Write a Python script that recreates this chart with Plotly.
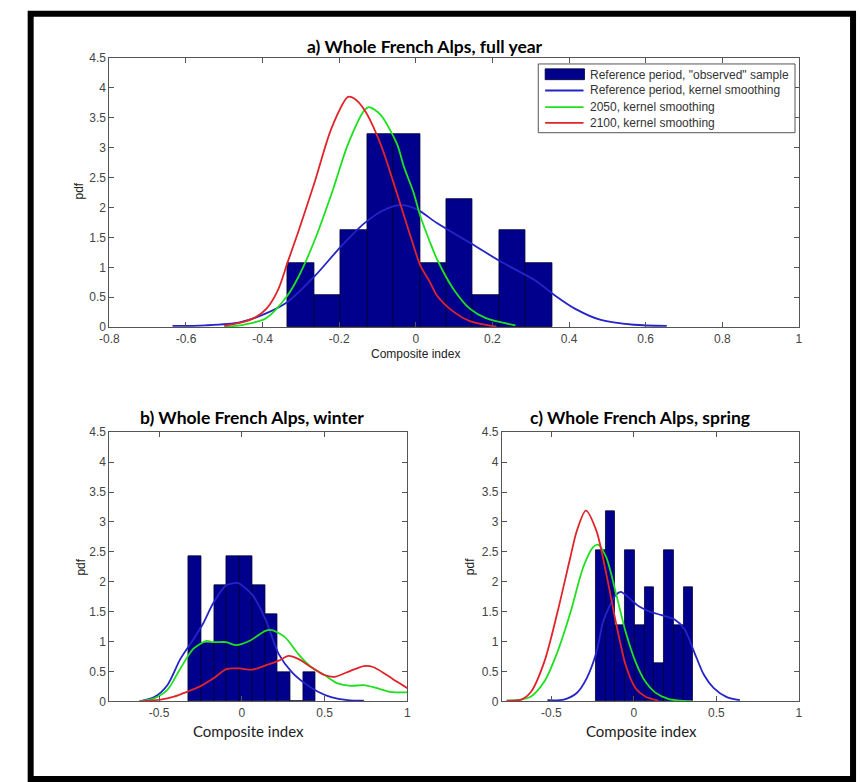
import plotly.graph_objects as go

W, H = 860, 782

# ---------------- data ----------------
# a) full year: histogram of the reference sample (pdf-normalised)
a_bin_start = -0.335
a_bin_width = 0.0691
a_heights = [1.08, 0.54, 1.62, 3.23, 3.23, 1.08, 2.15, 0.54, 1.62, 1.08]

a_ref_x = [-0.635, -0.55, -0.46, -0.391, -0.335, -0.263, -0.194, -0.134, -0.083, -0.040,
           0.003, 0.055, 0.141, 0.226, 0.312, 0.363, 0.415, 0.483, 0.569, 0.655]
a_ref_y = [0.02, 0.03, 0.08, 0.23, 0.42, 0.86, 1.36, 1.74, 1.96, 2.04,
           1.97, 1.74, 1.41, 1.08, 0.78, 0.53, 0.31, 0.12, 0.04, 0.02]

a_2050_x = [-0.50, -0.45, -0.391, -0.335, -0.305, -0.263, -0.220, -0.177, -0.134, -0.122,
            -0.092, -0.049, -0.031, -0.006, 0.012, 0.037, 0.055, 0.098, 0.141, 0.183, 0.26]
a_2050_y = [0.01, 0.04, 0.15, 0.53, 0.86, 1.47, 2.23, 3.06, 3.63, 3.68,
            3.55, 3.06, 2.68, 2.25, 1.85, 1.42, 1.14, 0.64, 0.31, 0.15, 0.03]

a_2100_x = [-0.50, -0.46, -0.42, -0.391, -0.36, -0.335, -0.305, -0.263, -0.220, -0.177,
            -0.160, -0.134, -0.092, -0.049, -0.006, 0.012, 0.037, 0.055, 0.098, 0.141, 0.19, 0.21]
a_2100_y = [0.02, 0.07, 0.16, 0.30, 0.62, 1.08, 1.63, 2.45, 3.33, 3.85,
            3.82, 3.63, 3.06, 2.23, 1.36, 1.03, 0.75, 0.53, 0.26, 0.10, 0.03, 0.01]

# b) winter
b_bin_start = -0.321
b_bin_width = 0.0767
b_heights = [2.42, 0.97, 1.94, 2.42, 2.42, 1.94, 1.45, 0.48, 0.0, 0.48]

b_ref_x = [-0.618, -0.529, -0.45, -0.371, -0.292, -0.232, -0.173, -0.094, -0.025, -0.015,
           0.064, 0.143, 0.223, 0.302, 0.381, 0.46, 0.539, 0.638, 0.737]
b_ref_y = [0.0, 0.07, 0.27, 0.71, 1.04, 1.31, 1.64, 1.94, 1.98, 1.97,
           1.78, 1.37, 0.79, 0.49, 0.30, 0.16, 0.07, 0.02, 0.01]

b_2050_x = [-0.618, -0.529, -0.45, -0.371, -0.292, -0.213, -0.173, -0.094, -0.035, 0.045,
            0.143, 0.183, 0.262, 0.341, 0.42, 0.499, 0.579, 0.658, 0.737, 0.816, 0.895, 1.0]
b_2050_y = [0.0, 0.05, 0.19, 0.55, 0.88, 1.01, 0.99, 0.99, 0.94, 1.01,
            1.18, 1.19, 1.07, 0.79, 0.57, 0.44, 0.30, 0.26, 0.27, 0.22, 0.16, 0.15]

b_2100_x = [-0.618, -0.49, -0.41, -0.331, -0.252, -0.173, -0.094, -0.015, 0.064, 0.143,
            0.223, 0.282, 0.341, 0.42, 0.499, 0.559, 0.638, 0.737, 0.796, 0.875, 0.935, 1.0]
b_2100_y = [0.0, 0.03, 0.08, 0.16, 0.25, 0.38, 0.54, 0.55, 0.53, 0.60,
            0.68, 0.76, 0.71, 0.57, 0.44, 0.41, 0.49, 0.59, 0.57, 0.44, 0.33, 0.22]

# c) spring
c_bin_start = -0.231
c_bin_width = 0.0591
c_heights = [2.53, 3.18, 1.27, 2.53, 1.27, 1.91, 0.64, 2.53, 1.27, 1.91]

c_ref_x = [-0.524, -0.425, -0.346, -0.287, -0.227, -0.188, -0.148, -0.109, -0.079, -0.030,
           0.030, 0.089, 0.168, 0.247, 0.306, 0.366, 0.425, 0.484, 0.563, 0.642]
c_ref_y = [0.02, 0.03, 0.14, 0.38, 0.82, 1.32, 1.59, 1.78, 1.83, 1.73,
           1.59, 1.51, 1.44, 1.37, 1.21, 0.82, 0.44, 0.22, 0.07, 0.02]

c_2050_x = [-0.771, -0.682, -0.623, -0.543, -0.464, -0.385, -0.306, -0.247, -0.217, -0.168,
            -0.109, -0.049, 0.010, 0.069, 0.128, 0.208, 0.287, 0.356]
c_2050_y = [0.01, 0.03, 0.08, 0.33, 0.82, 1.48, 2.25, 2.58, 2.62, 2.41,
            1.81, 1.15, 0.66, 0.33, 0.15, 0.04, 0.01, 0.0]

c_2100_x = [-0.771, -0.682, -0.623, -0.543, -0.464, -0.385, -0.346, -0.291, -0.227, -0.168,
            -0.109, -0.049, 0.010, 0.069, 0.148]
c_2100_y = [0.01, 0.03, 0.16, 0.66, 1.48, 2.41, 2.85, 3.19, 2.85, 2.14,
            1.32, 0.60, 0.22, 0.08, 0.01]

a_xticks = [-0.8, -0.6, -0.4, -0.2, 0, 0.2, 0.4, 0.6, 0.8, 1]
a_xticktext = ["-0.8", "-0.6", "-0.4", "-0.2", "0", "0.2", "0.4", "0.6", "0.8", "1"]
bc_xticks = [-0.5, 0, 0.5, 1]
bc_xticktext = ["-0.5", "0", "0.5", "1"]
yticks = [0, 0.5, 1, 1.5, 2, 2.5, 3, 3.5, 4, 4.5]
yticktext = ["0", "0.5", "1", "1.5", "2", "2.5", "3", "3.5", "4", "4.5"]

legend_labels = ['Reference period, "observed" sample', "Reference period, kernel smoothing",
                 "2050, kernel smoothing", "2100, kernel smoothing"]
titles = ["a) Whole French Alps, full year", "b) Whole French Alps, winter",
          "c) Whole French Alps, spring"]

# ---------------- styling ----------------
BAR = "#00008C"
BLUE = "#2424C8"
GREEN = "#1EE01E"
RED = "#E0242A"
AXC = "#555555"
TICKFONT = dict(family="Liberation Sans, Arial", size=12, color="#444444")


def px(x):
    return x / W


def py(y):
    return 1 - y / H


fig = go.Figure()


def add_panel(n, start, width, heights, curves):
    xa = "x" if n == 1 else f"x{n}"
    ya = "y" if n == 1 else f"y{n}"
    centers = [start + width * (i + 0.5) for i in range(len(heights))]
    fig.add_trace(go.Bar(x=centers, y=heights, width=width, xaxis=xa, yaxis=ya,
                         marker=dict(color=BAR, line=dict(color="#000033", width=0.8)),
                         showlegend=False))
    for (cx, cy, col) in curves:
        fig.add_trace(go.Scatter(x=cx, y=cy, mode="lines", xaxis=xa, yaxis=ya,
                                 line=dict(color=col, width=1.8, shape="spline", smoothing=0.8),
                                 showlegend=False, cliponaxis=True))


add_panel(1, a_bin_start, a_bin_width, a_heights,
          [(a_ref_x, a_ref_y, BLUE), (a_2050_x, a_2050_y, GREEN), (a_2100_x, a_2100_y, RED)])
add_panel(2, b_bin_start, b_bin_width, b_heights,
          [(b_ref_x, b_ref_y, BLUE), (b_2050_x, b_2050_y, GREEN), (b_2100_x, b_2100_y, RED)])
add_panel(3, c_bin_start, c_bin_width, c_heights,
          [(c_ref_x, c_ref_y, BLUE), (c_2050_x, c_2050_y, GREEN), (c_2100_x, c_2100_y, RED)])


def xaxis(dom, anchor, ticks, text):
    return dict(domain=dom, anchor=anchor, range=[-0.8, 1], tickvals=ticks, ticktext=text,
                showline=True, linecolor=AXC, linewidth=1, mirror="ticks",
                ticks="inside", ticklen=5, tickcolor=AXC, tickfont=TICKFONT,
                showgrid=False, zeroline=False, fixedrange=True)


def yaxis(dom, anchor):
    return dict(domain=dom, anchor=anchor, range=[0, 4.5], tickvals=yticks, ticktext=yticktext,
                showline=True, linecolor=AXC, linewidth=1, mirror="ticks",
                ticks="inside", ticklen=5, tickcolor=AXC, tickfont=TICKFONT,
                showgrid=False, zeroline=False, fixedrange=True)


top_y = [py(326), py(52)]
bot_y = [py(707), py(433)]

fig.update_layout(
    width=W, height=H, autosize=False,
    margin=dict(l=0, r=0, t=0, b=0),
    paper_bgcolor="white", plot_bgcolor="white",
    bargap=0, showlegend=False,
    xaxis=xaxis([px(101), px(802)], "y", a_xticks, a_xticktext),
    yaxis=yaxis(top_y, "x"),
    xaxis2=xaxis([px(101), px(404)], "y2", bc_xticks, bc_xticktext),
    yaxis2=yaxis(bot_y, "x2"),
    xaxis3=xaxis([px(500), px(802)], "y3", bc_xticks, bc_xticktext),
    yaxis3=yaxis(bot_y, "x3"),
)

shapes = []
ann = []

# outer frame
shapes.append(dict(type="rect", xref="paper", yref="paper",
                   x0=px(21), x1=px(857), y0=py(786), y1=py(7),
                   line=dict(color="black", width=6), fillcolor="rgba(0,0,0,0)"))

# legend of panel a
shapes.append(dict(type="rect", xref="paper", yref="paper",
                   x0=px(537), x1=px(798), y0=py(128), y1=py(58),
                   line=dict(color="#555555", width=1), fillcolor="white"))
shapes.append(dict(type="rect", xref="paper", yref="paper",
                   x0=px(544), x1=px(584), y0=py(74), y1=py(63),
                   line=dict(color="#000033", width=0.8), fillcolor=BAR))
for yy, col in zip([85, 102, 118], [BLUE, GREEN, RED]):
    shapes.append(dict(type="line", xref="paper", yref="paper",
                       x0=px(544), x1=px(583), y0=py(yy), y1=py(yy),
                       line=dict(color=col, width=1.8)))
for yy, lab in zip([69, 85, 102, 118], legend_labels):
    ann.append(dict(text=lab, xref="paper", yref="paper", x=px(588), y=py(yy),
                    xanchor="left", yanchor="middle", showarrow=False,
                    font=dict(family="Liberation Sans, Arial", size=12, color="#333333")))

# panel titles
for (tx, ty), t in zip([(422, 40), (246, 418), (640, 418)], titles):
    ann.append(dict(text=f"<b>{t}</b>", xref="paper", yref="paper", x=px(tx), y=py(ty),
                    xanchor="center", yanchor="middle", showarrow=False,
                    font=dict(family="Lato", size=17.5, color="#000000")))

# axis titles
ann.append(dict(text="Composite index", xref="paper", yref="paper", x=px(412), y=py(353),
                xanchor="center", yanchor="middle", showarrow=False,
                font=dict(family="Liberation Sans, Arial", size=12, color="#222222")))
for cx in [242, 642]:
    ann.append(dict(text="Composite index", xref="paper", yref="paper", x=px(cx), y=py(737),
                    xanchor="center", yanchor="middle", showarrow=False,
                    font=dict(family="Lato", size=15, color="#222222")))
for (xx, yy) in [(70, 187), (72, 570), (467, 570)]:
    ann.append(dict(text="pdf", xref="paper", yref="paper", x=px(xx), y=py(yy),
                    xanchor="center", yanchor="middle", showarrow=False, textangle=-90,
                    font=dict(family="Liberation Sans, Arial", size=12, color="#222222")))

fig.update_layout(shapes=shapes, annotations=ann)

fig.write_html("out.html")
